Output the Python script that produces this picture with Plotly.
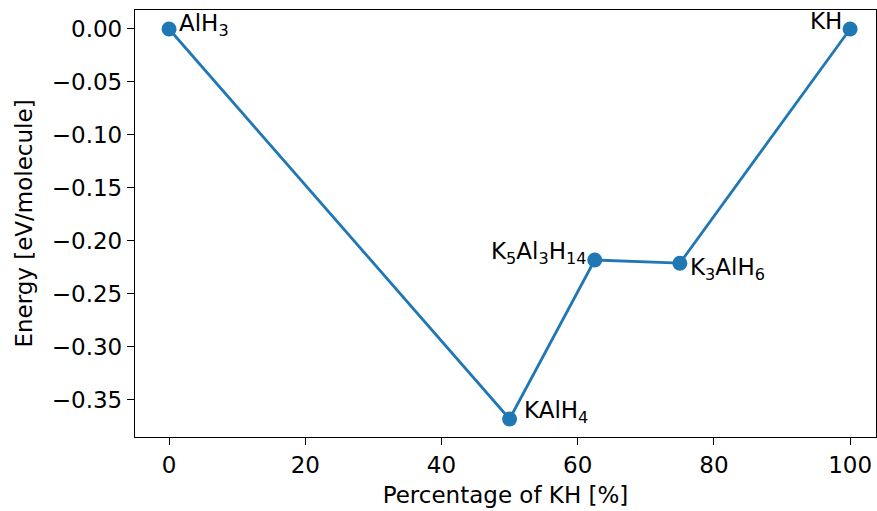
import plotly.graph_objects as go

# Formation energy of K-Al-H phases vs KH fraction
percent_kh = [0, 50, 62.5, 75, 100]
energy = [0.0, -0.368, -0.218, -0.221, 0.0]
phases = ["AlH<sub>3</sub>", "KAlH<sub>4</sub>", "K<sub>5</sub>Al<sub>3</sub>H<sub>14</sub>",
          "K<sub>3</sub>AlH<sub>6</sub>", "KH"]

x_ticks = [0, 20, 40, 60, 80, 100]
y_ticks = [0.0, -0.05, -0.10, -0.15, -0.20, -0.25, -0.30, -0.35]

blue = "#1f77b4"
font = dict(family="DejaVu Sans", size=23, color="black")

fig = go.Figure(go.Scatter(
    x=percent_kh, y=energy, mode="lines+markers",
    line=dict(color=blue, width=2.8),
    marker=dict(color=blue, size=15),
    showlegend=False, hoverinfo="skip",
))

# label placement per phase: (xanchor, yanchor, xshift, yshift)
placement = [
    ("left", "middle", 8, 4),
    ("left", "middle", 12, 7),
    ("right", "middle", -6, 7),
    ("left", "middle", 8, -6),
    ("right", "middle", -6, 8),
]
for xv, yv, txt, (xa, ya, xs, ys) in zip(percent_kh, energy, phases, placement):
    fig.add_annotation(x=xv, y=yv, text=txt, showarrow=False,
                       xanchor=xa, yanchor=ya, xshift=xs, yshift=ys, font=font)

axis_common = dict(
    showline=True, linecolor="black", linewidth=1.3, mirror=True,
    ticks="outside", ticklen=7, tickwidth=1.3, tickcolor="black",
    showgrid=False, zeroline=False, tickfont=font,
)

fig.update_layout(
    width=877, height=511,
    margin=dict(l=135, r=1, t=10, b=74),
    paper_bgcolor="white", plot_bgcolor="white",
    font=font,
    xaxis=dict(range=[-5, 103.8], tickvals=x_ticks,
               ticktext=[str(v) for v in x_ticks],
               title=dict(text="Percentage of KH [%]", font=font, standoff=10),
               **axis_common),
    yaxis=dict(range=[-0.385, 0.0179], tickvals=y_ticks,
               ticktext=[f"{v:.2f}".replace("-", "\u2212") for v in y_ticks],
               title=dict(text="Energy [eV/molecule]", font=font, standoff=12),
               **axis_common),
)

fig.write_html("out.html")
